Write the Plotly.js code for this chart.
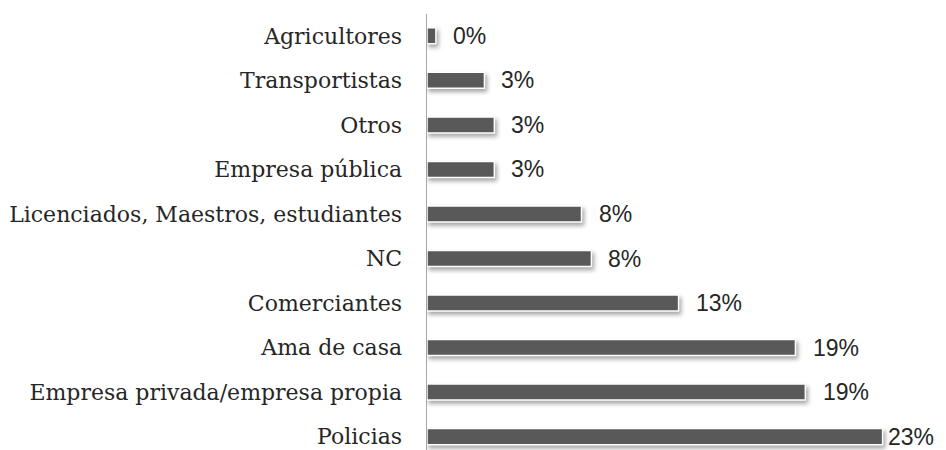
<!DOCTYPE html>
<html>
<head>
<meta charset="utf-8">
<script src="https://cdn.plot.ly/plotly-3.0.1.min.js"></script>
<style>
html,body{margin:0;padding:0;background:#fff;}
#chart{width:946px;height:450px;}
.bars .point path{filter:drop-shadow(2px 3px 2px rgba(0,0,0,0.35));}
</style>
</head>
<body>
<div id="chart"></div>
<script>
const categories = ["Agricultores","Transportistas","Otros","Empresa pública","Licenciados, Maestros, estudiantes","NC","Comerciantes","Ama de casa","Empresa privada/empresa propia","Policias"];
const values = [0.45, 2.9, 3.4, 3.4, 7.8, 8.3, 12.7, 18.6, 19.1, 23.0];
const labels = ["0%","3%","3%","3%","8%","8%","13%","19%","19%","23%"];
const labelShift = [15, 15, 15, 15, 15, 15, 15, 16, 16, 3];

const trace = {
  type: 'bar',
  orientation: 'h',
  x: values,
  y: categories,
  marker: {color: '#595959', line: {color: '#ffffff', width: 1.5}},
  hoverinfo: 'none'
};

const annotations = categories.map((c, i) => ({
  x: values[i], y: c, xref: 'x', yref: 'y',
  text: labels[i], showarrow: false,
  xanchor: 'left', yanchor: 'middle', xshift: labelShift[i], yshift: 0,
  font: {family: 'Liberation Sans, Arial, sans-serif', size: 23, color: '#262626'}
}));

const layout = {
  width: 946, height: 450,
  margin: {l: 427, r: 0, t: 14, b: 0},
  paper_bgcolor: '#ffffff', plot_bgcolor: '#ffffff',
  showlegend: false,
  bargap: 0.64,
  xaxis: {range: [0, 26.2], showgrid: false, zeroline: false, showline: false, showticklabels: false, ticks: ''},
  yaxis: {
    type: 'category',
    categoryorder: 'array', categoryarray: categories,
    range: [9.3, -0.49],
    showgrid: false, zeroline: false,
    showline: true, linecolor: '#a6a6a6', linewidth: 1.5,
    ticks: '', ticklabelstandoff: 19,
    tickfont: {family: 'DejaVu Serif, serif', size: 22, color: '#262626'}
  },
  annotations: annotations
};

Plotly.newPlot('chart', [trace], layout, {displayModeBar: false, staticPlot: true});
</script>
</body>
</html>
